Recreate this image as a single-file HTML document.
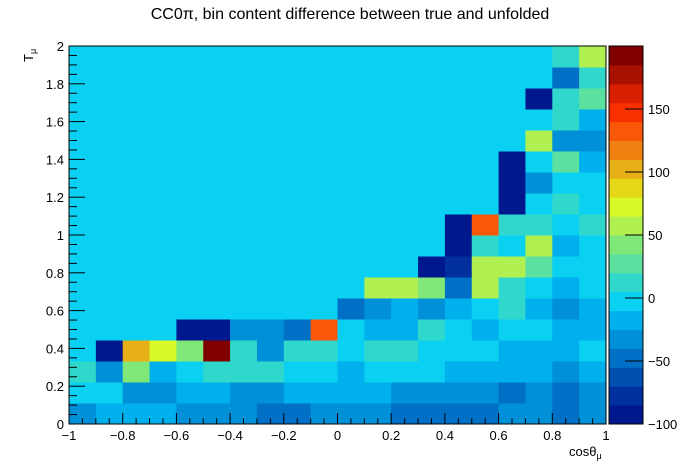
<!DOCTYPE html>
<html><head><meta charset="utf-8"><style>
body{margin:0;background:#fff;width:696px;height:472px;overflow:hidden}
svg{display:block;font-family:"Liberation Sans",sans-serif}
</style></head><body>
<svg id="c" width="696" height="472">
<text x="350" y="19" text-anchor="middle" font-size="16">CC0π, bin content difference between true and unfolded</text>
<g id="cells"></g>
<g id="axes"></g>
<g id="pal"></g>
<text x="569" y="456" font-size="13">cosθ<tspan font-size="9" dy="3">μ</tspan></text>
<text transform="translate(33,62) rotate(-90)" font-size="13">T<tspan font-size="9" dy="3">μ</tspan></text>
</svg>
<script>
// band indices per row (row 0 = bottom, T 0–0.111), 20 columns cosθ -1..1
const bandRows = [
[4,5,5,5,4,4,4,3,3,4,4,4,3,3,3,3,4,4,3,4],
[6,6,4,4,5,5,4,4,5,5,5,5,4,4,4,4,3,4,3,4],
[7,4,9,5,6,7,7,7,6,6,5,6,6,6,5,5,5,5,4,5],
[6,0,13,11,9,19,7,4,7,7,6,7,7,6,6,6,5,5,5,6],
[6,6,6,6,0,0,4,4,3,15,6,5,5,7,6,5,6,6,5,5],
[6,6,6,6,6,6,6,6,6,6,3,4,5,4,5,6,7,5,4,5],
[6,6,6,6,6,6,6,6,6,6,6,10,10,9,3,10,7,6,5,6],
[6,6,6,6,6,6,6,6,6,6,6,6,6,0,1,10,10,8,6,6],
[6,6,6,6,6,6,6,6,6,6,6,6,6,6,0,7,6,10,5,6],
[6,6,6,6,6,6,6,6,6,6,6,6,6,6,0,15,7,7,6,7],
[6,6,6,6,6,6,6,6,6,6,6,6,6,6,6,6,0,6,7,6],
[6,6,6,6,6,6,6,6,6,6,6,6,6,6,6,6,0,4,6,6],
[6,6,6,6,6,6,6,6,6,6,6,6,6,6,6,6,0,6,8,5],
[6,6,6,6,6,6,6,6,6,6,6,6,6,6,6,6,6,10,4,4],
[6,6,6,6,6,6,6,6,6,6,6,6,6,6,6,6,6,6,7,5],
[6,6,6,6,6,6,6,6,6,6,6,6,6,6,6,6,6,0,7,8],
[6,6,6,6,6,6,6,6,6,6,6,6,6,6,6,6,6,6,3,7],
[6,6,6,6,6,6,6,6,6,6,6,6,6,6,6,6,6,6,7,10]];
const values = bandRows.map(r=>r.map(k=>-92.5+15*k));
const xEdgesMin=-1, xEdgesMax=1, nX=20;
const yMin=0, yMax=2, nY=18;
const zMin=-100, zMax=200, nLevels=20;
const xTicks=[-1,-0.8,-0.6,-0.4,-0.2,0,0.2,0.4,0.6,0.8,1];
const yTicks=[0,0.2,0.4,0.6,0.8,1,1.2,1.4,1.6,1.8,2];
const zTicks=[-100,-50,0,50,100,150];
const palette=["#00188e","#00309e","#0050b0","#0070c6","#0090d8","#00b0ec","#0ad0f2","#30d8cc","#5ce0a0","#80e878","#b0f050","#d8f828","#e6d818","#e8b018","#f08010","#f85808","#f83000","#d82000","#a81000","#800000"];
const X0=69,X1=606,Y0=424,Y1=46,PX0=609,PX1=643;
const sx=v=>X0+(v-xEdgesMin)/(xEdgesMax-xEdgesMin)*(X1-X0);
const sy=v=>Y0-(v-yMin)/(yMax-yMin)*(Y0-Y1);
const sz=v=>Y0-(v-zMin)/(zMax-zMin)*(Y0-Y1);
const NS="http://www.w3.org/2000/svg";
function mk(t,a,p){const e=document.createElementNS(NS,t);for(const k in a)e.setAttribute(k,a[k]);p.appendChild(e);return e;}
const colorOf=v=>{let k=Math.floor((v-zMin)/((zMax-zMin)/nLevels));k=Math.max(0,Math.min(nLevels-1,k));return palette[k];};
const cells=document.getElementById('cells');
const dx=(xEdgesMax-xEdgesMin)/nX, dy=(yMax-yMin)/nY;
values.forEach((row,j)=>row.forEach((v,i)=>{
 const xa=sx(xEdgesMin+i*dx), xb=sx(xEdgesMin+(i+1)*dx), ya=sy(yMin+(j+1)*dy), yb=sy(yMin+j*dy);
 const r=mk('rect',{x:xa,y:ya,width:xb-xa+0.5,height:yb-ya+0.5,fill:colorOf(v)},cells);
 
 
}));
const ax=document.getElementById('axes');
mk('rect',{x:X0,y:Y1,width:X1-X0,height:Y0-Y1,fill:'none',stroke:'#000','stroke-width':1},ax);
for(let v=-1;v<=1.0001;v+=0.05){const x=sx(v);const maj=Math.abs(v/0.2-Math.round(v/0.2))<1e-6;mk('line',{x1:x,x2:x,y1:Y0,y2:Y0-(maj?11:5.5),stroke:'#000'},ax);}
for(let v=0;v<=2.0001;v+=0.05){const y=sy(v);const maj=Math.abs(v/0.2-Math.round(v/0.2))<1e-6;mk('line',{x1:X0,x2:X0+(maj?16:8),y1:y,y2:y,stroke:'#000'},ax);}
xTicks.forEach(t=>{const e=mk('text',{x:sx(t),y:440,'text-anchor':'middle','font-size':13},ax);e.textContent=(t<0?'−':'')+Math.abs(t);
 
 });
yTicks.forEach(t=>{const e=mk('text',{x:64,y:sy(t)+5,'text-anchor':'end','font-size':13},ax);e.textContent=String(t);
 
 });
const pal=document.getElementById('pal');
palette.forEach((c,k)=>{const za=zMin+k*(zMax-zMin)/nLevels, zb=zMin+(k+1)*(zMax-zMin)/nLevels;
 const r=mk('rect',{x:PX0,y:sz(zb),width:PX1-PX0,height:sz(za)-sz(zb)+0.5,fill:c},pal);
 
 });
mk('rect',{x:PX0,y:Y1,width:PX1-PX0,height:Y0-Y1,fill:'none',stroke:'#000'},pal);
zTicks.forEach(t=>{const y=sz(t);mk('line',{x1:PX1-18,x2:PX1,y1:y,y2:y,stroke:'#000'},pal);
 const e=mk('text',{x:648,y:y+5,'font-size':13},pal);e.textContent=(t<0?'−':'')+Math.abs(t);
 
 });
</script>
</body></html>
